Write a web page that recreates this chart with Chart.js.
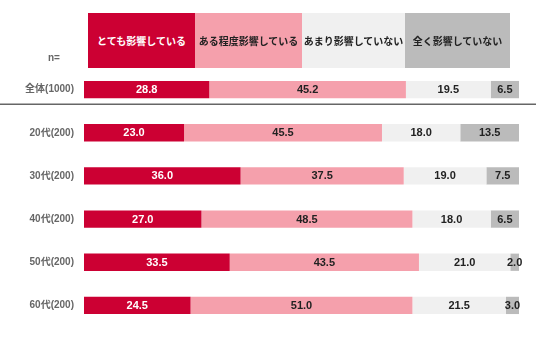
<!DOCTYPE html>
<html><head><meta charset="utf-8">
<script src="https://cdn.jsdelivr.net/npm/chart.js@4"></script>
<style>
html,body{margin:0;padding:0;background:#fff;}
#wrap{position:relative;width:536px;height:344px;}
canvas{position:absolute;left:0;top:0;}
.hd{position:absolute;top:13px;height:55px;display:flex;align-items:center;justify-content:center;font:bold 10px "Noto Sans CJK JP","Liberation Sans",sans-serif;white-space:nowrap;}
#n{position:absolute;left:48px;top:52px;font:bold 10px "Liberation Sans","Noto Sans CJK JP",sans-serif;color:#666;}
</style></head>
<body><div id="wrap"><canvas id="c" width="536" height="344"></canvas>
<div id="hdrs"></div><div id="n">n=</div></div>
<script>
const categories = ['全体(1000)','20代(200)','30代(200)','40代(200)','50代(200)','60代(200)'];
const seriesNames = ['とても影響している','ある程度影響している','あまり影響していない','全く影響していない'];
const veryMuch = [28.8,23.0,36.0,27.0,33.5,24.5];
const somewhat = [45.2,45.5,37.5,48.5,43.5,51.0];
const notMuch = [19.5,18.0,19.0,18.0,21.0,21.5];
const notAtAll = [6.5,13.5,7.5,6.5,2.0,3.0];

const colors = ['#cc0033','#f5a0ac','#f0f0f0','#bbbbbb'];
const textColors = ['#ffffff','#222222','#222222','#222222'];
const hdrPos = [[88,107],[195,107],[302,103],[405,105]];
const hd = document.getElementById('hdrs');
seriesNames.forEach((s,i)=>{
  const d=document.createElement('div');d.className='hd';
  d.style.left=hdrPos[i][0]+'px';d.style.width=hdrPos[i][1]+'px';
  d.style.background=colors[i];d.style.color=textColors[i];d.textContent=s;hd.appendChild(d);
});

const labelPlugin = {
  id:'lbl',
  afterDatasetsDraw(chart){
    const ctx=chart.ctx;
    ctx.save();
    ctx.font='bold 11px "Liberation Sans", sans-serif';
    ctx.textAlign='center';ctx.textBaseline='middle';
    chart.data.datasets.forEach((ds,di)=>{
      chart.getDatasetMeta(di).data.forEach((el,i)=>{
        const cx=(el.x+el.base)/2;
        ctx.fillStyle=textColors[di];
        ctx.fillText(ds.data[i].toFixed(1),cx,el.y+0.5);
      });
    });
    const y=chart.scales.y;
    const ly=(y.getPixelForValue(0)+y.getPixelForValue(1))/2-7;
    ctx.strokeStyle='#666';ctx.lineWidth=1.5;
    ctx.beginPath();ctx.moveTo(0,ly);ctx.lineTo(536,ly);ctx.stroke();
    ctx.restore();
  }
};

new Chart(document.getElementById('c'),{
  type:'bar',
  data:{labels:categories,datasets:[veryMuch,somewhat,notMuch,notAtAll].map((d,i)=>({
    label:seriesNames[i],data:d,backgroundColor:colors[i],borderWidth:0,
    categoryPercentage:1,barPercentage:0.4
  }))},
  options:{
    indexAxis:'y',responsive:false,animation:false,
    layout:{padding:{left:0,right:17,top:68,bottom:17}},
    plugins:{legend:{display:false},tooltip:{enabled:false}},
    scales:{
      x:{stacked:true,min:0,max:100,display:false},
      y:{stacked:true,grid:{display:false},border:{display:false},
        ticks:{color:'#666',padding:2,font:{family:'"Liberation Sans","Noto Sans CJK JP"',size:10,weight:'bold'}},
        afterFit(s){s.width=84;}}
    }
  },
  plugins:[labelPlugin]
});
</script></body></html>
